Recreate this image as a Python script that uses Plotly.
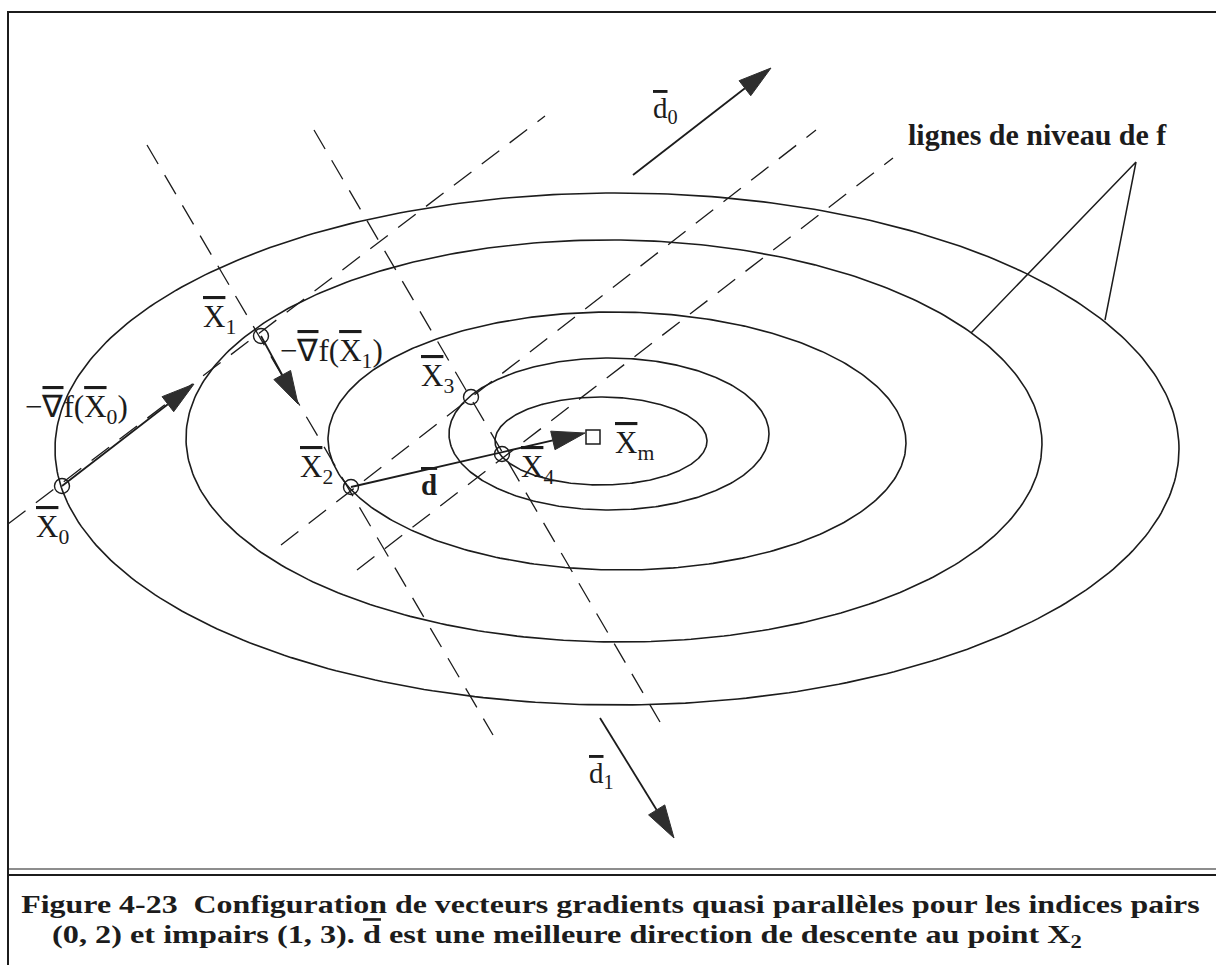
import numpy as np
import plotly.graph_objects as go

W, H = 1216, 965
INK = "#1c1c1c"
SERIF = "Liberation Serif"

# ---- level lines of f (ellipses): centre, semi-axes, tilt in degrees ----
ell_cx = [617, 614, 617, 609, 601]
ell_cy = [449, 441, 441, 434, 441]
ell_a = [562, 428, 289, 160, 106]
ell_b = [256, 201, 129, 76, 44]
ell_tilt = [0.0, 0.5, 0.5, 0.0, 0.0]

# ---- iterates X0..X4 and minimum Xm ----
pt_x = [62, 261, 351, 471, 502]
pt_y = [486, 336, 487, 397, 454]
xm_x = [593]
xm_y = [437]

# ---- dashed construction lines (start -> end) ----
dash_x0 = [8, 281, 357, 147, 314]
dash_y0 = [524, 545, 570, 145, 130]
dash_x1 = [545, 816, 893, 493, 660]
dash_y1 = [116, 130, 158, 735, 722]

# ---- arrows (tail -> tip): -grad f(X0), -grad f(X1), d, d0, d1 ----
arr_x0 = [62, 261, 351, 633, 600]
arr_y0 = [486, 336, 487, 175, 718]
arr_x1 = [194, 298, 585, 771, 674]
arr_y1 = [384, 404, 433, 68, 838]
head_len = 33
head_half = 9.5

# ---- leader lines for the "lignes de niveau" label ----
lead_x = [971, 1136, 1105]
lead_y = [333, 162, 320]

# ---- frame ----
frame_x = [1216, 8, 8]
frame_y = [12, 12, 965]
rule_y = [869, 875]
rule_w = [1.2, 2.2]


def ov(s):
    return f"<span style='text-decoration:overline'>{s}</span>"


# label text, anchor x (left), anchor y (middle)
lab_text = [
    ov("X") + "<sub>0</sub>",
    ov("X") + "<sub>1</sub>",
    "\u2212" + ov("\u2207") + "f(" + ov("X") + "<sub>0</sub>)",
    "\u2212" + ov("\u2207") + "f(" + ov("X") + "<sub>1</sub>)",
    ov("X") + "<sub>2</sub>",
    ov("X") + "<sub>3</sub>",
    ov("X") + "<sub>4</sub>",
    "<b>" + ov("d") + "</b>",
    ov("X") + "<sub>m</sub>",
    ov("d") + "<sub>0</sub>",
    ov("d") + "<sub>1</sub>",
]
lab_x = [34, 201, 23, 278, 298, 419, 519, 419, 613, 651, 587]
lab_y = [529, 319, 409, 353, 469, 378, 469, 485, 445, 110, 775]
lab_size = [31, 31, 31, 31, 31, 31, 31, 29, 31, 29, 29]

level_label = "<b>lignes de niveau de f</b>"
level_xy = (906, 134)

caption_1 = "<b>Figure 4-23  Configuration de vecteurs gradients quasi parallèles pour les indices pairs</b>"
caption_2 = ("<b>(0, 2) et impairs (1, 3). " + ov("d") +
             " est une meilleure direction de descente au point X<sub>2</sub></b>")
cap_xy1 = (19, 904)
cap_xy2 = (50, 936)
cap_len = [1179, 1030]

fig = go.Figure()

# frame
fig.add_trace(go.Scatter(x=frame_x, y=frame_y, mode="lines",
                         line=dict(color=INK, width=2), hoverinfo="skip"))
for yy, ww in zip(rule_y, rule_w):
    fig.add_trace(go.Scatter(x=[8, W], y=[yy, yy], mode="lines",
                             line=dict(color=INK, width=ww), hoverinfo="skip"))

# ellipses
t = np.linspace(0, 2 * np.pi, 400)
for cx, cy, a, b, tl in zip(ell_cx, ell_cy, ell_a, ell_b, ell_tilt):
    th = np.deg2rad(tl)
    ex = cx + a * np.cos(t) * np.cos(th) - b * np.sin(t) * np.sin(th)
    ey = cy + a * np.cos(t) * np.sin(th) + b * np.sin(t) * np.cos(th)
    fig.add_trace(go.Scatter(x=ex, y=ey, mode="lines",
                             line=dict(color=INK, width=1.6), hoverinfo="skip"))

# dashed lines
for x0, y0, x1, y1 in zip(dash_x0, dash_y0, dash_x1, dash_y1):
    fig.add_trace(go.Scatter(x=[x0, x1], y=[y0, y1], mode="lines",
                             line=dict(color=INK, width=1.3, dash="22px,13px"),
                             hoverinfo="skip"))

# leader lines
fig.add_trace(go.Scatter(x=lead_x, y=lead_y, mode="lines",
                         line=dict(color=INK, width=1.5), hoverinfo="skip"))

# arrows
for x0, y0, x1, y1 in zip(arr_x0, arr_y0, arr_x1, arr_y1):
    v = np.array([x1 - x0, y1 - y0], float)
    u = v / np.linalg.norm(v)
    n = np.array([-u[1], u[0]])
    base = np.array([x1, y1]) - head_len * u
    fig.add_trace(go.Scatter(x=[x0, base[0]], y=[y0, base[1]], mode="lines",
                             line=dict(color=INK, width=1.8), hoverinfo="skip"))
    p1 = base + head_half * n
    p2 = base - head_half * n
    fig.add_trace(go.Scatter(x=[x1, p1[0], p2[0], x1], y=[y1, p1[1], p2[1], y1],
                             mode="lines", fill="toself", fillcolor="#2e2e2e",
                             line=dict(color="#2e2e2e", width=1), hoverinfo="skip"))

# points
fig.add_trace(go.Scatter(x=pt_x, y=pt_y, mode="markers",
                         marker=dict(symbol="circle-open", size=15, color=INK,
                                     line=dict(width=1.4, color=INK)),
                         hoverinfo="skip"))
fig.add_trace(go.Scatter(x=xm_x, y=xm_y, mode="markers",
                         marker=dict(symbol="square-open", size=14, color=INK,
                                     line=dict(width=1.5, color=INK)),
                         hoverinfo="skip"))

ann = []
for txt, x, y, s in zip(lab_text, lab_x, lab_y, lab_size):
    ann.append(dict(x=x, y=y, text=txt, showarrow=False, xanchor="left",
                    yanchor="middle", font=dict(family=SERIF, size=s, color=INK)))
ann.append(dict(x=level_xy[0], y=level_xy[1], text=level_label, showarrow=False,
                xanchor="left", yanchor="middle",
                font=dict(family=SERIF, size=30, color=INK)))
ann.append(dict(x=cap_xy1[0], y=cap_xy1[1], text=caption_1, showarrow=False,
                xanchor="left", yanchor="middle",
                font=dict(family=SERIF, size=26, color=INK)))
ann.append(dict(x=cap_xy2[0], y=cap_xy2[1], text=caption_2, showarrow=False,
                xanchor="left", yanchor="middle",
                font=dict(family=SERIF, size=26, color=INK)))

fig.update_layout(
    width=W, height=H, margin=dict(l=0, r=0, t=0, b=0),
    paper_bgcolor="white", plot_bgcolor="white", showlegend=False,
    annotations=ann,
)
fig.update_xaxes(range=[0, W], visible=False, fixedrange=True)
fig.update_yaxes(range=[H, 0], visible=False, fixedrange=True)

# the scanned caption glyphs are wider than tall: stretch each caption line
# horizontally around its left edge to the width measured on the reference
post = """
document.body.style.margin='0';
document.body.style.overflow='hidden';
var capLen = {'Figure': CAP1, '(0, 2)': CAP2};
document.querySelectorAll('text.annotation-text').forEach(function(t){
  var s = t.textContent;
  Object.keys(capLen).forEach(function(k){
    if (s.indexOf(k) === 0) {
      var w = t.getBBox().width;
      if (w > 0) {
        t.style.transformBox = 'fill-box';
        t.style.transformOrigin = '0% 50%';
        t.style.transform = 'scaleX(' + (capLen[k] / w) + ')';
      }
    }
  });
});
""".replace("CAP1", str(cap_len[0])).replace("CAP2", str(cap_len[1]))

fig.write_html("out.html", config={"displayModeBar": False, "staticPlot": True},
               post_script=post)
